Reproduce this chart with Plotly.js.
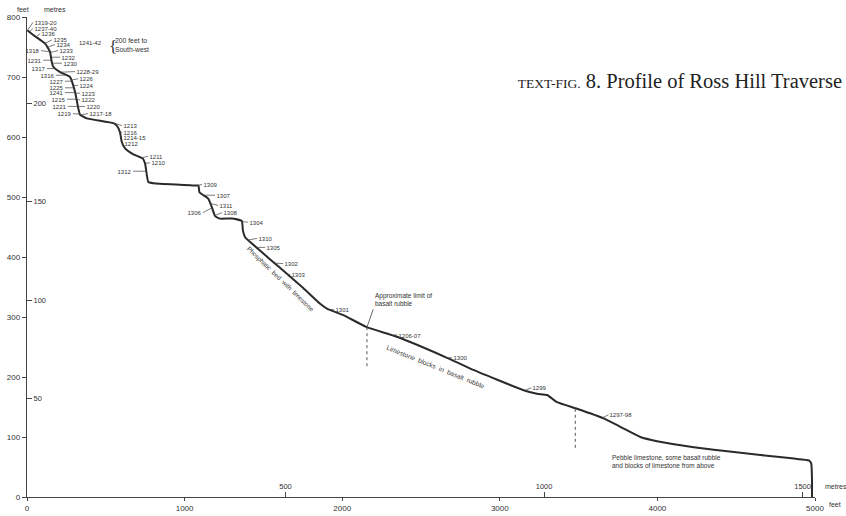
<!DOCTYPE html>
<html>
<head>
<meta charset="utf-8">
<script src="https://cdn.plot.ly/plotly-3.0.1.min.js"></script>
<style>html,body{margin:0;padding:0;background:#fff;}#chart{width:846px;height:516px;}</style>
</head>
<body>
<div id="chart"></div>
<script>
// Profile: horizontal distance (feet) and height (feet)
var profileX = [2, 40, 114, 146, 157, 167, 210, 273, 305, 326, 337, 379, 548, 570, 590, 601, 622, 675, 735, 749, 770, 802, 1077, 1088, 1094, 1119, 1151, 1173, 1194, 1225, 1300, 1363, 1370, 1384, 1416, 1543, 1649, 1754, 1860, 1903, 2008, 2157, 2347, 2665, 2813, 3151, 3236, 3300, 3363, 3490, 3659, 3765, 3892, 3998, 4231, 4486, 4654, 4867, 4961, 4976, 4981, 4981];
var profileY = [778, 770, 756, 742, 725, 717, 708, 700, 675, 647, 637, 631, 623, 619, 608, 592, 581, 571, 564, 556, 525, 523, 519, 519, 508, 503, 497, 483, 468, 464, 464, 460, 444, 433, 425, 396, 372, 348, 322, 314, 303, 283, 267, 232, 214, 178, 172, 170, 158, 147, 131, 117, 100, 93, 83, 75, 70, 64, 61, 56, 28, 0];

// Sample numbers: point on profile and label position (feet)
var sampleIds   = ["1319-20","1237-40","1236","1235","1234","1233","1232","1230","1228-29","1226","1224","1223","1222","1220","1217-18",
                   "1318","1231","1317","1316","1227","1225","1241","1215","1221","1219",
                   "1213","1216","1214-15","1212","1211","1210","1312","1309","1307","1311","1306","1308","1304","1310","1305","1302","1303","1301","1206-07","1300","1299","1297-98"];
var sampleLineX = [6, 19, 57, 114, 133, 149, 156, 162, 210, 283, 292, 307, 314, 322, 337,
                   146, 156, 181, 241, 286, 295, 306, 314, 322, 337,
                   552, 587, 594, 601, 724, 749, 756, 1079, 1124, 1165, 1173, 1190, 1363, 1397, 1460, 1562, 1648, 1911, 2317, 2665, 3162, 3644];
var sampleLineY = [779, 776, 767, 756, 750, 741, 733, 723, 708, 695, 686, 673, 662, 651, 637,
                   742, 728, 714, 703, 693, 682, 674, 663, 651, 638,
                   623, 608, 600, 589, 565, 556, 543, 519, 503, 489, 482, 469, 459, 428, 416, 390, 371, 313, 270, 232, 178, 131];
var sampleTextX = [38, 38, 83, 159, 178, 197, 210, 222, 305, 324, 324, 337, 337, 368, 387,
                   89, 102, 127, 184, 241, 241, 241, 254, 260, 292,
                   603, 603, 603, 610, 768, 781, 673, 1111, 1194, 1213, 1117, 1238, 1403, 1460, 1511, 1625, 1670, 1949, 2349, 2698, 3200, 3689];
var sampleTextY = [791, 781, 772, 762, 754, 744, 733, 723, 709, 697, 686, 673, 662, 651, 639,
                   744, 728, 714, 703, 693, 682, 674, 663, 651, 639,
                   619, 608, 600, 589, 568, 557, 543, 521, 503, 486, 474, 474, 458, 431, 416, 389, 371, 312, 270, 232, 182, 137];
var sampleSide  = ["r","r","r","r","r","r","r","r","r","r","r","r","r","r","r",
                   "l","l","l","l","l","l","l","l","l","l",
                   "r","r","r","r","r","r","l","r","r","r","l","r","r","r","r","r","r","r","r","r","r","r"];

// Dashed lines marking rubble limits (feet)
var limitX = [2157, 3479];
var limitTop = [283, 147];
var limitBottom = [214, 81];

// Tick values
var feetXTicks = [0, 1000, 2000, 3000, 4000, 5000];
var feetYTicks = [0, 100, 200, 300, 400, 500, 600, 700, 800];
var metreXTicks = [500, 1000, 1500];
var metreYTicks = [50, 100, 150, 200];
var FT_PER_M = 3.28084;

var dashX = [], dashY = [];
for (var i = 0; i < limitX.length; i++) {
  dashX.push(limitX[i], limitX[i], null);
  dashY.push(limitTop[i], limitBottom[i], null);
}

var traces = [
  {x: profileX, y: profileY, type: 'scatter', mode: 'lines',
   line: {color: '#2a2a2a', width: 2, shape: 'spline', smoothing: 0.4}, hoverinfo: 'skip'},
  {x: dashX, y: dashY, type: 'scatter', mode: 'lines',
   line: {color: '#555', width: 1, dash: 'dot'}, hoverinfo: 'skip'},
  {x: profileX.map(function(v){return v / FT_PER_M;}), y: profileY.map(function(v){return v / FT_PER_M;}),
   xaxis: 'x2', yaxis: 'y2', type: 'scatter', mode: 'lines',
   line: {color: 'rgba(0,0,0,0)', width: 0}, hoverinfo: 'skip'}
];

var sf = {family: 'Liberation Sans, Arial, sans-serif', size: 6, color: '#333'};
var annotations = [];
for (var j = 0; j < sampleIds.length; j++) {
  annotations.push({
    x: sampleLineX[j], y: sampleLineY[j], xref: 'x', yref: 'y',
    ax: sampleTextX[j], ay: sampleTextY[j], axref: 'x', ayref: 'y',
    text: sampleIds[j], showarrow: true, arrowhead: 0, arrowwidth: 0.7, arrowcolor: '#444',
    standoff: 0, startstandoff: 0,
    xanchor: sampleSide[j] === 'r' ? 'left' : 'right', yanchor: 'middle',
    font: sf, borderpad: 0.5
  });
}

// plot area in pixels: left 27, right 815, top 17, bottom 497
function px(p){ return (p - 27) / 788; }
function py(p){ return (497 - p) / 480; }
var tf = {family: 'Liberation Sans, Arial, sans-serif', size: 7, color: '#333'};

annotations.push(
  {xref: 'paper', yref: 'paper', x: px(15), y: py(4), text: 'feet', showarrow: false, font: tf},
  {xref: 'paper', yref: 'paper', x: px(42), y: py(4), text: 'metres', showarrow: false, font: tf},
  {xref: 'paper', yref: 'paper', x: px(823), y: py(492), text: 'metres', showarrow: false, font: tf, xanchor: 'left'},
  {xref: 'paper', yref: 'paper', x: px(827), y: py(510), text: 'feet', showarrow: false, font: tf, xanchor: 'left'},
  {xref: 'paper', yref: 'paper', x: px(104), y: py(38), text: '1241-42', showarrow: false, font: sf, xanchor: 'right'},
  {xref: 'paper', yref: 'paper', x: px(108), y: py(36), text: '{', showarrow: false, borderpad: 0,
   font: {family: 'Liberation Serif, serif', size: 17, color: '#333'}},
  {xref: 'paper', yref: 'paper', x: px(114), y: py(36), text: '200 feet to<br>South-west', showarrow: false, borderpad: 0,
   font: {family: 'Liberation Sans, Arial, sans-serif', size: 6.8, color: '#333'}, xanchor: 'left', align: 'left'},
  {x: 2157, y: 283, xref: 'x', yref: 'y', ax: 2197, ay: 313, axref: 'x', ayref: 'y',
   text: 'Approximate limit of<br>basalt rubble', showarrow: true, arrowhead: 0, arrowwidth: 0.8, arrowcolor: '#444',
   standoff: 0, xanchor: 'left', yanchor: 'bottom', align: 'left',
   font: {family: 'Liberation Sans, Arial, sans-serif', size: 6.5, color: '#333'}},
  {x: 1606, y: 363, xref: 'x', yref: 'y', text: 'Phosphatic  bed  with  limestone', showarrow: false, textangle: 44,
   font: {family: 'Liberation Sans, Arial, sans-serif', size: 6.3, color: '#333'}},
  {x: 2590, y: 217, xref: 'x', yref: 'y', text: 'Limestone  blocks  in  basalt  rubble', showarrow: false, textangle: 22,
   font: {family: 'Liberation Sans, Arial, sans-serif', size: 6.6, color: '#333'}},
  {x: 3702, y: 60, xref: 'x', yref: 'y', text: 'Pebble limestone, some basalt rubble<br>and blocks of limestone from above',
   showarrow: false, xanchor: 'left', align: 'left',
   font: {family: 'Liberation Sans, Arial, sans-serif', size: 6.5, color: '#333'}}
);

var axFont = {family: 'Liberation Sans, Arial, sans-serif', size: 8, color: '#333'};
var layout = {
  width: 846, height: 516,
  margin: {l: 27, r: 31, t: 17, b: 19, pad: 0},
  paper_bgcolor: '#fff', plot_bgcolor: '#fff',
  showlegend: false,
  title: {text: '<span style="font-size:13.5px">TEXT-FIG.</span> 8. Profile of Ross Hill Traverse',
          font: {family: 'Liberation Serif, Times New Roman, serif', size: 20.5, color: '#222'},
          xref: 'container', yref: 'container', x: 842/846, xanchor: 'right', y: 1 - 81/516, yanchor: 'middle'},
  xaxis: {range: [0, 5000], showline: true, linecolor: '#444', linewidth: 1.2, ticks: 'outside', ticklen: 3,
          tickcolor: '#444', tickvals: feetXTicks, tickfont: axFont, showgrid: false, zeroline: false, fixedrange: true},
  yaxis: {range: [0, 800], showline: true, linecolor: '#444', linewidth: 1.2, ticks: 'outside', ticklen: 4,
          tickcolor: '#444', tickvals: feetYTicks, tickfont: axFont, showgrid: false, zeroline: false, fixedrange: true},
  xaxis2: {overlaying: 'x', anchor: 'y', side: 'bottom', range: [0, 5000 / FT_PER_M], showline: false,
           ticks: 'inside', ticklen: 5, tickcolor: '#444', ticklabelposition: 'inside', tickvals: metreXTicks,
           tickfont: {family: 'Liberation Sans, Arial, sans-serif', size: 7.5, color: '#333'},
           showgrid: false, zeroline: false, fixedrange: true},
  yaxis2: {overlaying: 'y', anchor: 'x', side: 'left', range: [0, 800 / FT_PER_M], showline: false,
           ticks: 'inside', ticklen: 5, tickcolor: '#444', ticklabelposition: 'inside', tickvals: metreYTicks,
           tickfont: {family: 'Liberation Sans, Arial, sans-serif', size: 7.5, color: '#333'},
           showgrid: false, zeroline: false, fixedrange: true},
  annotations: annotations
};

Plotly.newPlot('chart', traces, layout, {staticPlot: true, displayModeBar: false});
</script>
</body>
</html>
